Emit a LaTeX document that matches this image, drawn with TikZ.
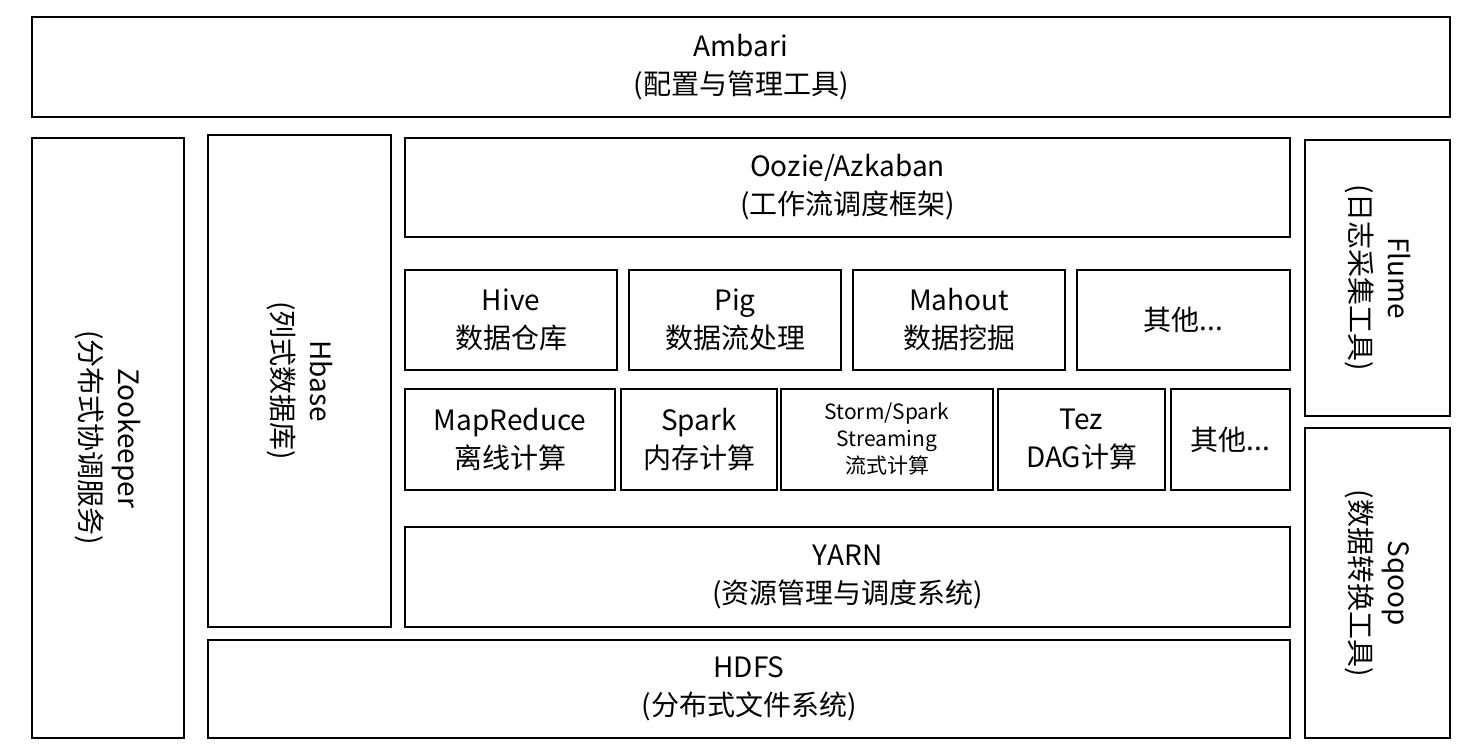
\documentclass[tikz,border=0pt]{standalone}
\usepackage{fontspec}
\setmainfont{Noto Sans CJK SC}
\begin{document}
\begin{tikzpicture}[x=1pt,y=-1pt,
  bx/.style={draw,line width=1.6pt},
  tx/.style={align=center,font=\fontsize{28}{38}\selectfont},
  sm/.style={align=center,font=\fontsize{21}{27}\selectfont}]
\useasboundingbox (0,0) rectangle (1468,754);
\newcommand\B[6]{\draw[bx] (#1,#2) rectangle (#3,#4);
  \node[#6] (n#1x#2) at ({(#1+#3)/2},{(#2+#4)/2}) {#5};}
\B{32}{17}{1450}{117}{Ambari\\(配置与管理工具)}{tx}
\B{32}{138}{184}{738}{Zookeeper\\(分布式协调服务)}{tx,rotate=-90}
\B{208}{135}{391}{627}{Hbase\\(列式数据库)}{tx,rotate=-90}
\B{405}{138}{1290}{237}{Oozie/Azkaban\\(工作流调度框架)}{tx}
\B{405}{270}{617}{370}{Hive\\数据仓库}{tx}
\B{629}{270}{841}{370}{Pig\\数据流处理}{tx}
\B{853}{270}{1065}{370}{Mahout\\数据挖掘}{tx}
\B{1077}{270}{1290}{370}{其他...}{tx}
\B{405}{389}{615}{490}{MapReduce\\离线计算}{tx}
\B{621}{389}{777}{490}{Spark\\内存计算}{tx}
\B{781}{389}{993}{490}{Storm/Spark\\Streaming\\流式计算}{sm}
\B{998}{389}{1165}{490}{Tez\\DAG计算}{tx}
\B{1171}{389}{1290}{490}{其他...}{tx}
\B{405}{527}{1290}{627}{YARN\\(资源管理与调度系统)}{tx}
\B{208}{640}{1290}{738}{HDFS\\(分布式文件系统)}{tx}
\B{1305}{140}{1450}{416}{Flume\\(日志采集工具)}{tx,rotate=-90}
\B{1305}{428}{1450}{738}{Sqoop\\(数据转换工具)}{tx,rotate=-90}
\end{tikzpicture}
\end{document}
